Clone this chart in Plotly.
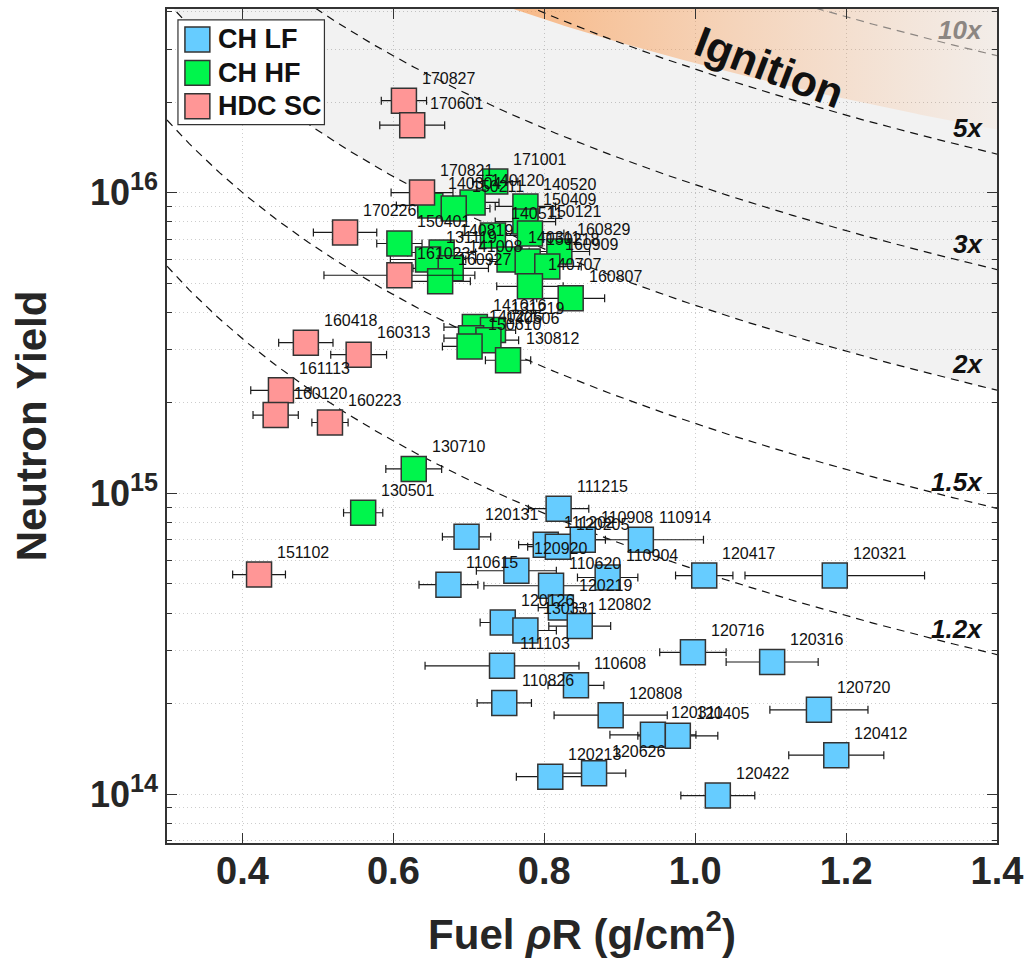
import numpy as np
import plotly.graph_objects as go

FONT = "Liberation Sans, Arial, Helvetica, sans-serif"

# ---- CH low-foot implosions ----
lf_shots = ["111215", "120131", "110908", "110914", "111202", "120205", "120920",
            "110615", "110904", "110620", "120219", "120126", "130331", "120802",
            "111103", "110608", "110826", "120808", "120311", "120405", "120213",
            "120626", "120422", "120412", "120720", "120316", "120716", "120417",
            "120321"]
lf_rho_r = [0.819, 0.697, 0.851, 0.928, 0.802, 0.818, 0.763, 0.673, 0.884, 0.809,
            0.822, 0.745, 0.775, 0.847, 0.744, 0.842, 0.747, 0.888, 0.944, 0.977,
            0.808, 0.866, 1.030, 1.187, 1.164, 1.102, 0.997, 1.012, 1.185]
lf_rho_r_err = [0.040, 0.032, 0.030, 0.083, 0.036, 0.040, 0.053, 0.039, 0.040, 0.089,
                0.030, 0.030, 0.041, 0.041, 0.102, 0.037, 0.036, 0.075, 0.057, 0.053,
                0.045, 0.042, 0.049, 0.063, 0.065, 0.061, 0.044, 0.038, 0.119]
lf_yield = [8.89e14, 7.17e14, 7.01e14, 7.01e14, 6.75e14, 6.65e14, 5.53e14, 4.97e14,
            5.25e14, 4.93e14, 4.17e14, 3.72e14, 3.50e14, 3.62e14, 2.67e14, 2.30e14,
            2.01e14, 1.83e14, 1.575e14, 1.563e14, 1.143e14, 1.174e14, 0.989e14,
            1.347e14, 1.907e14, 2.75e14, 2.96e14, 5.33e14, 5.33e14]

# ---- CH high-foot implosions ----
hf_shots = ["171001", "140304", "140120", "150211", "140520", "150409", "150121",
            "140511", "150401", "140819", "131119", "141008", "160927", "140311",
            "160829", "150218", "160909", "140707", "160807", "141016", "131219",
            "140225", "140506", "150610", "130812", "130710", "130501"]
hf_rho_r = [0.735, 0.649, 0.705, 0.680, 0.775, 0.775, 0.781, 0.732, 0.608, 0.664,
            0.646, 0.676, 0.662, 0.754, 0.820, 0.778, 0.804, 0.781, 0.835, 0.708,
            0.732, 0.703, 0.726, 0.701, 0.752, 0.627, 0.560]
hf_rho_r_err = [0.030, 0.045, 0.035, 0.048, 0.040, 0.040, 0.045, 0.040, 0.030, 0.045,
                0.050, 0.050, 0.040, 0.045, 0.040, 0.050, 0.045, 0.044, 0.045, 0.041,
                0.030, 0.036, 0.040, 0.036, 0.030, 0.037, 0.026]
hf_yield = [1.088e16, 9.06e15, 9.27e15, 8.85e15, 8.99e15, 8.01e15, 7.31e15, 7.20e15,
            6.77e15, 6.32e15, 5.99e15, 5.60e15, 5.07e15, 5.99e15, 6.37e15, 5.90e15,
            5.68e15, 4.88e15, 4.45e15, 3.57e15, 3.49e15, 3.28e15, 3.23e15, 3.08e15,
            2.77e15, 1.206e15, 8.62e14]

# ---- HDC implosions ----
hdc_shots = ["170827", "170601", "170821", "170226", "161023", "160418", "160313",
             "161113", "160120", "160223", "151102"]
hdc_rho_r = [0.614, 0.625, 0.638, 0.536, 0.608, 0.484, 0.554, 0.451, 0.444, 0.516, 0.422]
hdc_rho_r_err = [0.030, 0.043, 0.041, 0.042, 0.100, 0.036, 0.037, 0.040, 0.030, 0.024, 0.035]
hdc_yield = [2.02e16, 1.675e16, 1.0e16, 7.37e15, 5.31e15, 3.17e15, 2.89e15, 2.20e15,
             1.82e15, 1.72e15, 5.37e14]

# yield-amplification contours: log10(Y) = c + slope * log10(rhoR)
amp_labels = ["1.2x", "1.5x", "2x", "3x", "5x", "10x"]
amp_log_c = [14.746, 15.232, 15.625, 16.026, 16.410, 16.737]
amp_slope = -1.93
ign_log_c = 16.430
ign_slope = -1.506

x_range = [0.3, 1.4]
y_log_range = [13.8375, 16.6103]
x_ticks = [0.4, 0.6, 0.8, 1.0, 1.2, 1.4]
x_tick_text = ["0.4", "0.6", "0.8", "1.0", "1.2", "1.4"]
y_ticks = [1e14, 1e15, 1e16]
y_tick_text = ["10<sup>14</sup>", "10<sup>15</sup>", "10<sup>16</sup>"]

groups = [
    ("CH LF", lf_shots, lf_rho_r, lf_rho_r_err, lf_yield, "#66CCFF"),
    ("CH HF", hf_shots, hf_rho_r, hf_rho_r_err, hf_yield, "#00F54C"),
    ("HDC SC", hdc_shots, hdc_rho_r, hdc_rho_r_err, hdc_yield, "#FF9696"),
]

# plot-area geometry in pixels (used for the hand-drawn legend box)
L, R, T, B = 167, 1000, 7, 843


def to_paper(px, py):
    return (px - L) / (R - L), (B - py) / (B - T)


rr = np.linspace(x_range[0], x_range[1], 300)


def contour(c, s):
    return 10 ** (c + s * np.log10(rr))


fig = go.Figure()

# shaded band above the 2x contour
fig.add_trace(go.Scatter(
    x=np.concatenate([rr, [x_range[1], x_range[0]]]),
    y=np.concatenate([contour(amp_log_c[2], amp_slope), [1e17, 1e17]]),
    mode="lines", line=dict(width=0), fill="toself",
    fillcolor="rgba(0,0,0,0.052)", hoverinfo="skip"))

# ignition region
fig.add_trace(go.Scatter(
    x=np.concatenate([rr, [x_range[1], x_range[0]]]),
    y=np.concatenate([contour(ign_log_c, ign_slope), [1e17, 1e17]]),
    mode="lines", line=dict(width=0), fill="toself",
    fillgradient=dict(type="horizontal", start=0.74, stop=1.4,
                      colorscale=[[0.0, "rgba(250,155,80,0.68)"],
                                  [0.45, "rgba(250,160,90,0.38)"],
                                  [1.0, "rgba(250,170,110,0.07)"]]),
    hoverinfo="skip"))

# amplification contours
for lab, c in zip(amp_labels, amp_log_c):
    col = "#8c8682" if lab == "10x" else "#111111"
    fig.add_trace(go.Scatter(x=rr, y=contour(c, amp_slope), mode="lines",
                             line=dict(color=col, width=1.2, dash="8px,6px"),
                             hoverinfo="skip"))

# data points with horizontal error bars
for name, shots, x, xe, y, color in groups:
    fig.add_trace(go.Scatter(
        x=x, y=y, mode="markers", name=name, text=shots,
        marker=dict(symbol="square", size=25, color=color,
                    line=dict(color="#333333", width=1.5)),
        error_x=dict(type="data", array=xe, color="#1a1a1a", thickness=1.2, width=4),
        hovertemplate="%{text}<br>ρR=%{x}<br>Y=%{y:.3g}<extra></extra>"))

annotations = []
# shot labels
for name, shots, x, xe, y, color in groups:
    for s, xv, yv in zip(shots, x, y):
        annotations.append(dict(x=xv, y=np.log10(yv), text=s, showarrow=False,
                                xanchor="left", yanchor="middle", xshift=16, yshift=22,
                                font=dict(family=FONT, size=16, color="#111111")))

# contour labels
x_lab = 1.384
for lab, c in zip(amp_labels, amp_log_c):
    col = "#8c8682" if lab == "10x" else "#111111"
    annotations.append(dict(x=x_lab, y=c + amp_slope * np.log10(x_lab),
                            text="<b><i>%s</i></b>" % lab, showarrow=False,
                            xanchor="right", yanchor="middle", yshift=23,
                            font=dict(family=FONT, size=26, color=col)))

annotations.append(dict(x=1.098, y=16.418, text="<b>Ignition</b>", showarrow=False,
                        textangle=21, font=dict(family=FONT, size=43, color="#111111")))

# legend (drawn by hand so the swatches match the marker size)
shapes = []
bx0, by0 = to_paper(178, 123)
bx1, by1 = to_paper(325, 18)
shapes.append(dict(type="rect", xref="paper", yref="paper", x0=bx0, y0=by0, x1=bx1, y1=by1,
                   fillcolor="white", line=dict(color="#333333", width=1.2), layer="above"))
for i, (name, shots, x, xe, y, color) in enumerate(groups):
    cy = 37.5 + 33.5 * i
    sx0, sy0 = to_paper(185, cy + 12.5)
    sx1, sy1 = to_paper(210, cy - 12.5)
    shapes.append(dict(type="rect", xref="paper", yref="paper", x0=sx0, y0=sy0, x1=sx1, y1=sy1,
                       fillcolor=color, line=dict(color="#333333", width=1.5), layer="above"))
    tx, ty = to_paper(216, cy)
    annotations.append(dict(xref="paper", yref="paper", x=tx, y=ty, text="<b>%s</b>" % name,
                            showarrow=False, xanchor="left", yanchor="middle",
                            font=dict(family=FONT, size=27, color="#111111")))

minor_y = [m * 10 ** e for e in (13, 14, 15, 16) for m in range(2, 10)
           if 10 ** y_log_range[0] <= m * 10 ** e <= 10 ** y_log_range[1]]

GRID = "#cdcdcd"
GRID_DASH = "1px,3px"

fig.update_layout(
    width=1030, height=964,
    margin=dict(l=L, r=1030 - R, t=T, b=964 - B),
    plot_bgcolor="white", paper_bgcolor="white",
    showlegend=False,
    font=dict(family=FONT, color="#222222"),
    annotations=annotations, shapes=shapes,
    xaxis=dict(range=x_range, tickmode="array", tickvals=x_ticks, ticktext=x_tick_text,
               tickfont=dict(size=38, weight="bold", color="#262626"),
               ticks="inside", ticklen=10, tickwidth=1.3, tickcolor="#333333",
               ticklabelstandoff=-6,
               showline=True, linecolor="#333333", linewidth=1.5, mirror="ticks",
               showgrid=True, gridcolor=GRID, griddash=GRID_DASH, gridwidth=1,
               zeroline=False,
               title=dict(text="Fuel <i>ρ</i>R (g/cm<sup>2</sup>)",
                          font=dict(size=42, weight="bold", color="#262626"), standoff=28)),
    yaxis=dict(type="log", range=y_log_range, tickmode="array", tickvals=y_ticks,
               ticktext=y_tick_text,
               tickfont=dict(size=36, weight="bold", color="#262626"),
               ticks="inside", ticklen=10, tickwidth=1.3, tickcolor="#333333",
               showline=True, linecolor="#333333", linewidth=1.5, mirror="ticks",
               showgrid=True, gridcolor=GRID, griddash=GRID_DASH, gridwidth=1,
               zeroline=False,
               minor=dict(tickmode="array", tickvals=minor_y, ticks="inside", ticklen=5,
                          tickcolor="#333333", showgrid=True, gridcolor=GRID,
                          griddash=GRID_DASH, gridwidth=1),
               title=dict(text="Neutron Yield",
                          font=dict(size=42, weight="bold", color="#262626"), standoff=30)),
)

fig.write_html("out.html")
